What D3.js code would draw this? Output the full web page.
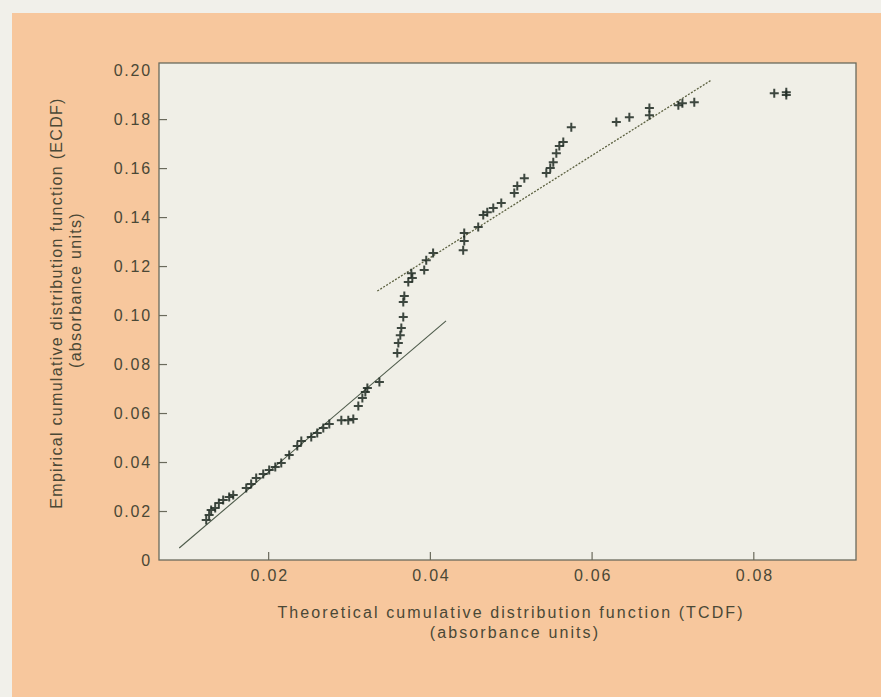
<!DOCTYPE html>
<html>
<head>
<meta charset="utf-8">
<script src="https://cdn.jsdelivr.net/npm/d3@7"></script>
<style>
html,body{margin:0;padding:0;background:#f1f0ea;}
svg{display:block;}
text{font-family:"Liberation Sans",Arial,sans-serif;fill:#4a4836;}
</style>
</head>
<body>
<script>
// ---- data ----
const tcdf = [0.01234,0.0127,0.01295,0.01345,0.0139,0.01444,0.01518,0.01568,0.01729,0.0179,
  0.01852,0.01939,0.02013,0.02088,0.02162,0.0226,0.0236,0.0241,0.02533,0.02607,
  0.02682,0.02756,0.02905,0.02991,0.03053,0.03115,0.03165,0.03202,0.03227,0.03376,
  0.03597,0.0361,0.03634,0.03647,0.03671,0.03671,0.03684,0.03733,0.03771,0.03783,
  0.0393,0.03955,0.0404,0.04412,0.04425,0.04425,0.04598,0.0466,0.0471,0.04784,
  0.04883,0.05044,0.05081,0.05168,0.0544,0.05489,0.05526,0.05564,0.05601,0.0565,
  0.05749,0.06306,0.06467,0.06715,0.06715,0.07073,0.07123,0.0727,0.08259,0.08408,0.08408];
const ecdf = [0.0163,0.0184,0.0204,0.0212,0.0233,0.0245,0.0257,0.0265,0.0294,0.031,
  0.0335,0.0351,0.0367,0.038,0.0396,0.0429,0.0465,0.0486,0.0502,0.0518,
  0.0539,0.0555,0.0571,0.0571,0.0576,0.0629,0.0661,0.0686,0.0702,0.0727,
  0.0845,0.0886,0.0918,0.0947,0.0992,0.1053,0.1078,0.1135,0.1171,0.1151,
  0.1184,0.1224,0.1253,0.1265,0.1302,0.1335,0.1359,0.1408,0.142,0.1437,
  0.1457,0.1498,0.1527,0.1559,0.158,0.16,0.1624,0.1661,0.169,0.1706,
  0.1767,0.1788,0.1808,0.1845,0.1816,0.1857,0.1865,0.1869,0.1906,0.191,0.1898];
const fitLowX = [0.0090, 0.0420], fitLowY = [0.0049, 0.0976];
const fitHighX = [0.0335, 0.0748], fitHighY = [0.1098, 0.1959];
const xTicks = [0.02, 0.04, 0.06, 0.08];
const yTicks = [0, 0.02, 0.04, 0.06, 0.08, 0.10, 0.12, 0.14, 0.16, 0.18, 0.20];
const xTitle = ["Theoretical cumulative distribution function (TCDF)", "(absorbance units)"];
const yTitle = ["Empirical cumulative distribution function (ECDF)", "(absorbance units)"];

// ---- drawing ----
const W = 881, H = 697;
const svg = d3.select("body").append("svg").attr("width", W).attr("height", H);
svg.append("rect").attr("x", 12).attr("y", 13).attr("width", W - 12).attr("height", H - 13).attr("fill", "#f7c79d");

const L = 159, R = 856, T = 63, B = 560;
const x = d3.scaleLinear().domain([0.0065, 0.0927]).range([L, R]);
const y = d3.scaleLinear().domain([0, 0.2029]).range([B, T]);

svg.append("rect").attr("x", L).attr("y", T).attr("width", R - L).attr("height", B - T)
  .attr("fill", "#f0efe7").attr("stroke", "#6a6a5c").attr("stroke-width", 1.3);

const fs = 16;
// x axis
const xAx = svg.append("g").attr("transform", `translate(0,${B})`)
  .call(d3.axisBottom(x).tickValues(xTicks).tickFormat(d3.format(".2f")).tickSizeInner(-8).tickSizeOuter(0).tickPadding(18));
xAx.select(".domain").remove();
xAx.selectAll("line").attr("stroke", "#6a6a5c").attr("stroke-width", 1.2);
xAx.selectAll("text").attr("font-size", fs).attr("letter-spacing", "1.8px").attr("fill", "#4a4836").attr("dy", "0.2em").attr("dx", "1px");

// y axis
const yAx = svg.append("g").attr("transform", `translate(${L},0)`)
  .call(d3.axisLeft(y).tickValues(yTicks).tickFormat(d => d === 0 ? "0" : d3.format(".2f")(d)).tickSizeInner(-8).tickSizeOuter(0).tickPadding(7));
yAx.select(".domain").remove();
yAx.selectAll("line").attr("stroke", "#6a6a5c").attr("stroke-width", 1.2)
  .attr("opacity", d => (d === 0 || d === 0.2) ? 0 : 1);
yAx.selectAll("text").attr("font-size", fs).attr("letter-spacing", "1.8px").attr("fill", "#4a4836");

// fitted lines
const line = d3.line().x(d => x(d[0])).y(d => y(d[1]));
svg.append("path").datum(d3.zip(fitLowX, fitLowY)).attr("d", line)
  .attr("fill", "none").attr("stroke", "#4d5a4a").attr("stroke-width", 1.1);
svg.append("path").datum(d3.zip(fitHighX, fitHighY)).attr("d", line)
  .attr("fill", "none").attr("stroke", "#5c6140").attr("stroke-width", 1.3).attr("stroke-dasharray", "2,1.5");

// points as plus markers
const pts = svg.append("g");
const s = 4.5;
d3.zip(tcdf, ecdf).forEach(([a, b]) => {
  const cx = x(a), cy = y(b);
  pts.append("path").attr("d", `M${cx - s},${cy}H${cx + s}M${cx},${cy - s}V${cy + s}`)
    .attr("stroke", "#1e2a22").attr("stroke-width", 2).attr("opacity", 0.85);
});

// titles
svg.append("text").attr("x", 511).attr("y", 618).attr("text-anchor", "middle")
  .attr("font-size", fs).attr("letter-spacing", "2.1px").text(xTitle[0]);
svg.append("text").attr("x", 515).attr("y", 638).attr("text-anchor", "middle")
  .attr("font-size", fs).attr("letter-spacing", "2.1px").text(xTitle[1]);
svg.append("text").attr("transform", "translate(62,303) rotate(-90)").attr("text-anchor", "middle")
  .attr("font-size", fs).attr("letter-spacing", "1.3px").text(yTitle[0]);
svg.append("text").attr("transform", "translate(81,290) rotate(-90)").attr("text-anchor", "middle")
  .attr("font-size", fs).attr("letter-spacing", "1.3px").text(yTitle[1]);
</script>
</body>
</html>
